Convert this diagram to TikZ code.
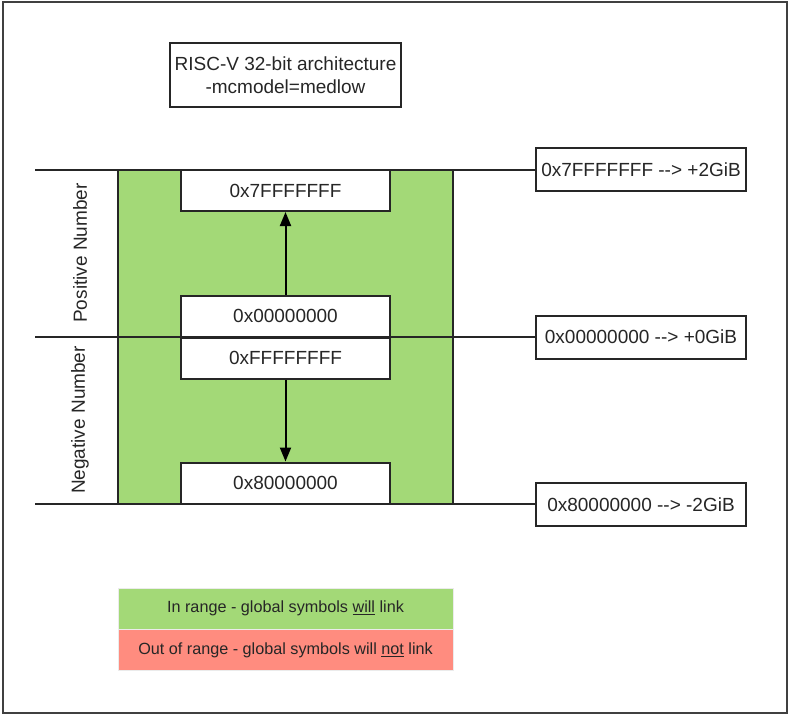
\documentclass[tikz,border=0pt]{standalone}
\usepackage{fontspec}
\setmainfont{Liberation Sans}
\usepackage{xcolor}
\usetikzlibrary{arrows.meta,positioning,calc}
\definecolor{inrange}{HTML}{A3D977}
\definecolor{outrange}{HTML}{FF8C7F}

\begin{document}
\begin{tikzpicture}[
    x=1pt, y=-1pt,
    every node/.style={font=\fontsize{19}{23}\selectfont, text=black!85},
    memory/.style={rectangle, draw=black!85, line width=2pt, fill=white, minimum width=209pt, minimum height=41pt, inner sep=0pt},
    limit/.style={rectangle, draw=black!85, line width=2pt, fill=white, minimum width=210pt, minimum height=43pt, inner sep=0pt},
    legend/.style={rectangle, draw=black!8, minimum width=335pt, minimum height=41pt, inner sep=0pt, font=\fontsize{16.2}{19}\selectfont},
    boundary/.style={line width=2pt, draw=black!85},
    arrow/.style={-{Triangle[length=14pt,width=11pt]}, line width=2pt}
]
    \useasboundingbox (0,0) rectangle (791,716);
    % frame
    \draw[line width=2pt, draw=black!75] (3,2) rectangle (787,713);

    % title
    \node[rectangle, draw=black!85, line width=2pt, minimum width=231pt, minimum height=64pt, align=center] (title) at (285.5,75) {RISC-V 32-bit architecture\\-mcmodel=medlow};

    % green range
    \draw[boundary, fill=inrange] (118,170) rectangle (453,504);

    % limits on the right
    \node[limit] (lim7f) at (641,169.5) {0x7FFFFFFF -{}-> +2GiB};
    \node[limit] (lim0) at (641,337) {0x00000000 -{}-> +0GiB};
    \node[limit] (lim80) at (641,504.5) {0x80000000 -{}-> -2GiB};

    \coordinate (top) at (35,170);
    \coordinate (mid) at (35,337);
    \coordinate (bot) at (35,504);
    \draw[boundary] (top) -- (top -| lim7f.west);
    \draw[boundary] (mid) -- (mid -| lim0.west);
    \draw[boundary] (bot) -- (bot -| lim80.west);

    % memory boxes
    \node[memory] (m7f) at (285.5,190.5) {0x7FFFFFFF};
    \node[memory] (m0) at (285.5,316) {0x00000000};
    \node[memory] (mff) at (285.5,358) {0xFFFFFFFF};
    \node[memory] (m80) at (285.5,483) {0x80000000};

    \draw[arrow] (m0) -- (m7f);
    \draw[arrow] (mff) -- (m80);

    % side labels
    \node[rotate=90] (pos) at (80,253) {Positive Number};
    \node[rotate=90] (neg) at (80,420) {Negative Number};

    % legend
    \node[legend, fill=inrange] (in) at (285.5,608.5) {In range - global symbols \underline{will} link};
    \node[legend, fill=outrange] (out) at (285.5,650) {Out of range - global symbols will \underline{not} link};
\end{tikzpicture}
\end{document}
